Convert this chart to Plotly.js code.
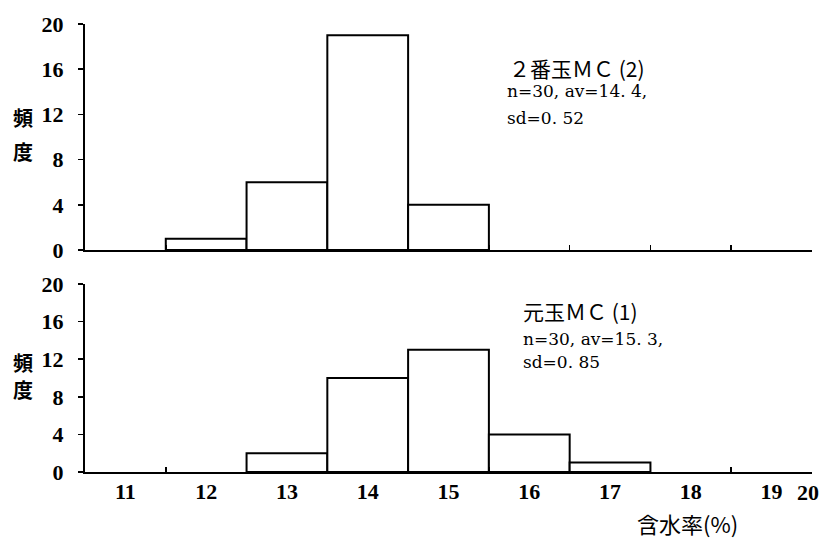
<!DOCTYPE html>
<html>
<head>
<meta charset="utf-8">
<script src="https://cdn.plot.ly/plotly-3.0.1.min.js"></script>
<style>
  html, body { margin: 0; padding: 0; background: #fff; }
  #chart { width: 829px; height: 539px; }
</style>
</head>
<body>
<div id="chart"></div>
<script>
// Moisture-content classes (%), each bin centred on an integer value
const moistureBins = [11, 12, 13, 14, 15, 16, 17, 18, 19];
// Frequency per class: second log MC(2) and butt log MC(1)
const countsSecondLog = [0, 1, 6, 19, 4, 0, 0, 0, 0];
const countsButtLog   = [0, 0, 2, 10, 13, 4, 1, 0, 0];
// Axis labels
const xTickLabels = ['11', '12', '13', '14', '15', '16', '17', '18', '19'];
const xEndLabel = '20';
const yTickValues = [0, 4, 8, 12, 16, 20];
const binEdges = [11.5, 12.5, 13.5, 14.5, 15.5, 16.5, 17.5, 18.5, 19.5];

const SERIF = '"Liberation Serif", "DejaVu Serif", serif';
const STAT = '"DejaVu Serif", "Liberation Serif", serif';
const CJK = '"Noto Sans CJK JP", "Noto Sans CJK SC", sans-serif';
const X_RANGE = [10.5, 19.5];

function nonZero(bins, counts) {
  const x = [], y = [];
  bins.forEach((b, i) => { if (counts[i] > 0) { x.push(b); y.push(counts[i]); } });
  return { x, y };
}

function barTrace(bins, counts, xa, ya) {
  const d = nonZero(bins, counts);
  return {
    type: 'bar', x: d.x, y: d.y, width: 1,
    xaxis: xa, yaxis: ya,
    marker: { color: '#ffffff', line: { color: '#000000', width: 2 } },
    hoverinfo: 'x+y', showlegend: false
  };
}

const traces = [
  barTrace(moistureBins, countsSecondLog, 'x', 'y'),
  barTrace(moistureBins, countsButtLog, 'x2', 'y2'),
  // invisible carrier so the class-label axis is laid out
  { type: 'scatter', mode: 'none', x: moistureBins, y: countsButtLog,
    xaxis: 'x3', yaxis: 'y2', hoverinfo: 'skip', showlegend: false }
];

function yAxis(domain, anchor) {
  return {
    domain: domain, anchor: anchor, range: [0, 20],
    tickmode: 'array', tickvals: yTickValues,
    ticks: 'outside', ticklen: 5, tickwidth: 1.5, tickcolor: '#000',
    ticklabelstandoff: 10,
    showline: true, linewidth: 2, linecolor: '#000',
    showgrid: false, zeroline: false, fixedrange: true,
    tickfont: { family: SERIF, size: 22, color: '#000', weight: 700 }
  };
}

// Axis line with short inward marks at the class boundaries
function edgeAxis(anchor) {
  return {
    anchor: anchor, range: X_RANGE,
    tickmode: 'array', tickvals: binEdges, ticktext: binEdges.map(() => ''),
    ticks: 'inside', ticklen: 5, tickwidth: 1.5, tickcolor: '#000',
    showticklabels: false,
    showline: true, linewidth: 2, linecolor: '#000',
    showgrid: false, zeroline: false, fixedrange: true
  };
}

// Class labels under the lower panel, one per bin centre
const labelAxis = {
  overlaying: 'x2', anchor: 'y2', side: 'bottom', range: X_RANGE,
  tickmode: 'array', tickvals: moistureBins, ticktext: xTickLabels,
  ticks: '', ticklabelstandoff: 4, showline: false,
  showgrid: false, zeroline: false, fixedrange: true,
  tickfont: { family: SERIF, size: 22, color: '#000', weight: 700 }
};

const statFont = { family: STAT, size: 17, color: '#000' };
const headFont = { family: CJK, size: 21, color: '#000' };
const freqFont = { family: CJK, size: 20, color: '#000', weight: 700 };

function freqChar(ch, yref, y) {
  return { xref: 'paper', yref: yref, x: -0.085, y: y, xanchor: 'center', yanchor: 'middle',
           text: ch, showarrow: false, font: freqFont, borderpad: 0 };
}

function stat(text, xref, yref, x, y, font) {
  return { xref: xref, yref: yref, x: x, y: y, xanchor: 'left', yanchor: 'middle',
           text: text, showarrow: false, font: font || statFont };
}

const annotations = [
  // frequency labels, written vertically in each panel
  freqChar('頻', 'y', 11.7), freqChar('度', 'y', 8.7),
  freqChar('頻', 'y2', 11.6), freqChar('度', 'y2', 8.75),
  // upper panel statistics
  stat('２番玉ＭＣ (2)', 'x', 'y', 15.72, 16.1, headFont),
  stat('n=30, av=14. 4,', 'x', 'y', 15.7, 14.1),
  stat('sd=0. 52', 'x', 'y', 15.7, 11.7),
  // lower panel statistics
  stat('元玉ＭＣ (1)', 'x2', 'y2', 15.9, 17.1, headFont),
  stat('n=30, av=15. 3,', 'x2', 'y2', 15.9, 14.15),
  stat('sd=0. 85', 'x2', 'y2', 15.9, 11.7),
  // end label of the moisture axis
  { xref: 'paper', yref: 'paper', x: 1.0, y: 0, xanchor: 'center', yanchor: 'top', yshift: -6, xshift: -4,
    text: xEndLabel, showarrow: false, font: { family: SERIF, size: 22, color: '#000', weight: 700 } },
  // axis title
  { xref: 'paper', yref: 'paper', x: 0.829, y: 0, xanchor: 'center', yanchor: 'middle', yshift: -51,
    text: '含水率(%)', showarrow: false, borderpad: 0, font: { family: CJK, size: 22, color: '#000' } }
];

const layout = {
  width: 829, height: 539,
  margin: { l: 85, r: 17, t: 24, b: 67 },
  paper_bgcolor: '#ffffff', plot_bgcolor: '#ffffff',
  bargap: 0, showlegend: false,
  xaxis: edgeAxis('y'),
  yaxis: yAxis([0.4955, 1], 'x'),
  xaxis2: edgeAxis('y2'),
  yaxis2: yAxis([0, 0.4196], 'x2'),
  xaxis3: labelAxis,
  annotations: annotations
};

Plotly.newPlot('chart', traces, layout, { displayModeBar: false, staticPlot: true });
</script>
</body>
</html>
